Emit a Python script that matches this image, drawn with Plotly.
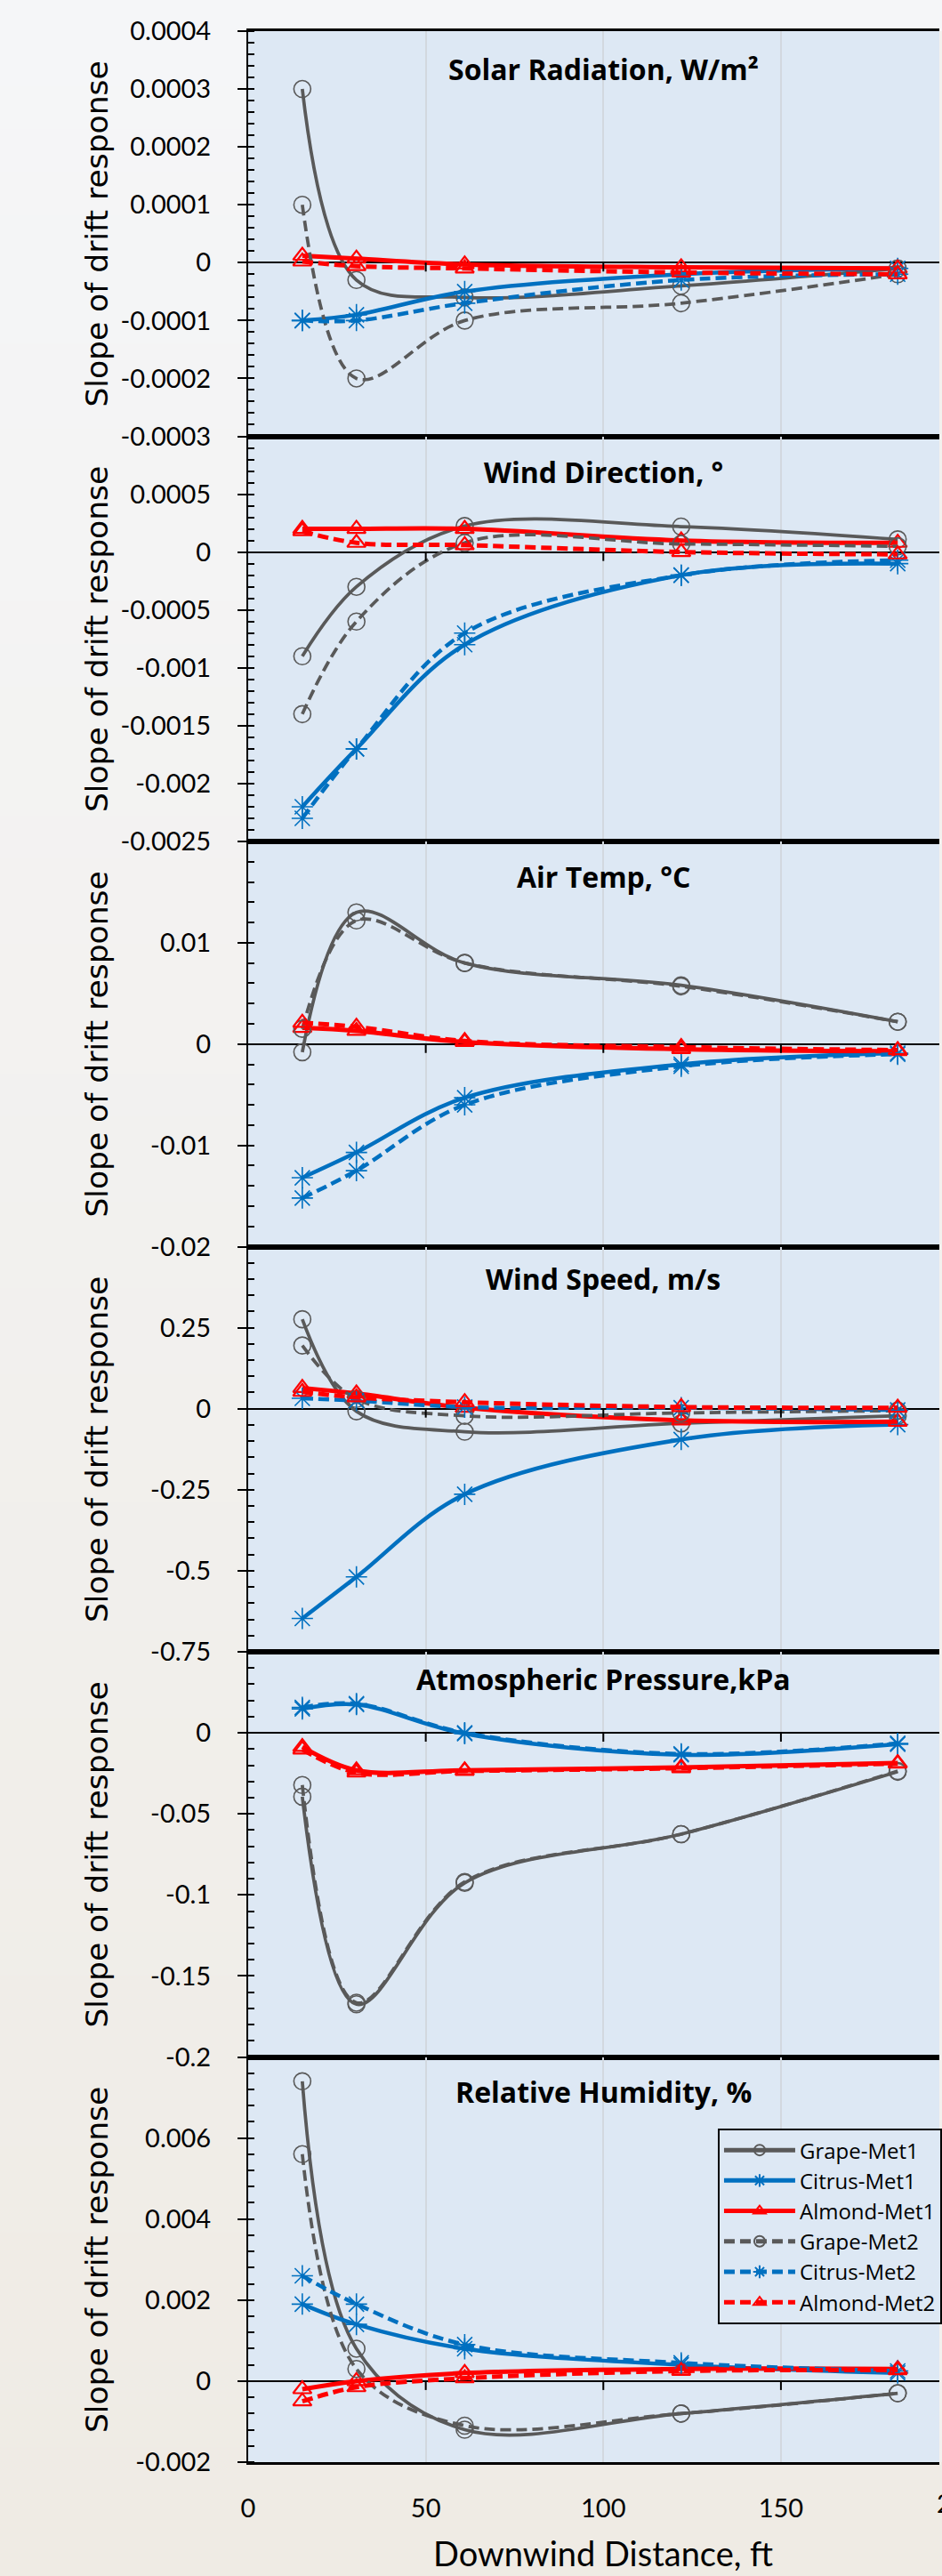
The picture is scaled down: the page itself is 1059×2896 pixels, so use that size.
import plotly.graph_objects as go
from plotly.subplots import make_subplots

# ---------------- data ----------------
distance_ft = [15.24, 30.48, 60.96, 121.92, 182.88]
x_ticks = [0, 50, 100, 150, 200]
series_names = ["Grape-Met1", "Citrus-Met1", "Almond-Met1", "Grape-Met2", "Citrus-Met2", "Almond-Met2"]

panel_titles = ["Solar Radiation, W/m²", "Wind Direction, °", "Air Temp, °C",
                "Wind Speed, m/s", "Atmospheric Pressure,kPa", "Relative Humidity, %"]

solar_grape_met1 = [0.0003, -0.00003, -0.00006, -0.00004, -0.00001]
solar_citrus_met1 = [-0.0001, -0.00009, -0.00005, -0.00002, -0.00001]
solar_almond_met1 = [0.000012, 0.000007, -0.000003, -0.000008, -0.00001]
solar_grape_met2 = [0.0001, -0.0002, -0.0001, -0.00007, -0.00002]
solar_citrus_met2 = [-0.0001, -0.0001, -0.00007, -0.00003, -0.00002]
solar_almond_met2 = [0.000002, -0.000006, -0.00001, -0.000017, -0.00002]

wdir_grape_met1 = [-0.0009, -0.0003, 0.000225, 0.00022, 0.00011]
wdir_citrus_met1 = [-0.0022, -0.0017, -0.0008, -0.0002, -0.0001]
wdir_almond_met1 = [0.0002, 0.0002, 0.0002, 0.0001, 0.00008]
wdir_grape_met2 = [-0.0014, -0.0006, 0.00008, 0.00007, 0.00005]
wdir_citrus_met2 = [-0.0023, -0.0017, -0.0007, -0.0002, -0.00007]
wdir_almond_met2 = [0.00018, 0.00008, 0.00006, 0.0, -0.00002]

temp_grape_met1 = [-0.0008, 0.013, 0.008, 0.0058, 0.0022]
temp_citrus_met1 = [-0.0132, -0.0107, -0.0053, -0.002, -0.0009]
temp_almond_met1 = [0.0016, 0.0013, 0.0002, -0.0005, -0.0007]
temp_grape_met2 = [0.0015, 0.0122, 0.008, 0.0057, 0.0022]
temp_citrus_met2 = [-0.0152, -0.0125, -0.006, -0.0022, -0.001]
temp_almond_met2 = [0.0021, 0.0017, 0.0003, -0.0003, -0.0006]

wspd_grape_met1 = [0.276, -0.008, -0.071, -0.045, -0.022]
wspd_citrus_met1 = [-0.647, -0.519, -0.264, -0.095, -0.049]
wspd_almond_met1 = [0.064, 0.047, 0.003, -0.036, -0.04]
wspd_grape_met2 = [0.195, 0.03, -0.022, -0.013, -0.006]
wspd_citrus_met2 = [0.032, 0.025, 0.005, 0.003, -0.004]
wspd_almond_met2 = [0.052, 0.035, 0.02, 0.005, 0.003]

pres_grape_met1 = [-0.0394, -0.1675, -0.0926, -0.0625, -0.024]
pres_citrus_met1 = [0.0148, 0.0175, -0.0005, -0.0135, -0.007]
pres_almond_met1 = [-0.0087, -0.0231, -0.0231, -0.0213, -0.0186]
pres_grape_met2 = [-0.0322, -0.1665, -0.092, -0.0625, -0.0236]
pres_citrus_met2 = [0.0157, 0.018, 0.0, -0.013, -0.0065]
pres_almond_met2 = [-0.0103, -0.0245, -0.0235, -0.0218, -0.019]

rh_grape_met1 = [0.0074, 0.0008, -0.0012, -0.0008, -0.0003]
rh_citrus_met1 = [0.0019, 0.0014, 0.0008, 0.0004, 0.0002]
rh_almond_met1 = [-0.0002, 0.0, 0.0002, 0.0003, 0.0003]
rh_grape_met2 = [0.0056, 0.0003, -0.0011, -0.0008, -0.0003]
rh_citrus_met2 = [0.0026, 0.0019, 0.0009, 0.00045, 0.00025]
rh_almond_met2 = [-0.0005, -0.00015, 0.00007, 0.00025, 0.00027]

panel_series = [
    [solar_grape_met1, solar_citrus_met1, solar_almond_met1, solar_grape_met2, solar_citrus_met2, solar_almond_met2],
    [wdir_grape_met1, wdir_citrus_met1, wdir_almond_met1, wdir_grape_met2, wdir_citrus_met2, wdir_almond_met2],
    [temp_grape_met1, temp_citrus_met1, temp_almond_met1, temp_grape_met2, temp_citrus_met2, temp_almond_met2],
    [wspd_grape_met1, wspd_citrus_met1, wspd_almond_met1, wspd_grape_met2, wspd_citrus_met2, wspd_almond_met2],
    [pres_grape_met1, pres_citrus_met1, pres_almond_met1, pres_grape_met2, pres_citrus_met2, pres_almond_met2],
    [rh_grape_met1, rh_citrus_met1, rh_almond_met1, rh_grape_met2, rh_citrus_met2, rh_almond_met2],
]

y_ranges = [[-0.0003, 0.0004], [-0.0025, 0.001], [-0.02, 0.02], [-0.75, 0.5], [-0.2, 0.05], [-0.002, 0.008]]
y_tickvals = [
    [-0.0003, -0.0002, -0.0001, 0, 0.0001, 0.0002, 0.0003, 0.0004],
    [-0.0025, -0.002, -0.0015, -0.001, -0.0005, 0, 0.0005],
    [-0.02, -0.01, 0, 0.01],
    [-0.75, -0.5, -0.25, 0, 0.25],
    [-0.2, -0.15, -0.1, -0.05, 0],
    [-0.002, 0, 0.002, 0.004, 0.006],
]
y_ticktext = [
    ["-0.0003", "-0.0002", "-0.0001", "0", "0.0001", "0.0002", "0.0003", "0.0004"],
    ["-0.0025", "-0.002", "-0.0015", "-0.001", "-0.0005", "0", "0.0005"],
    ["-0.02", "-0.01", "0", "0.01"],
    ["-0.75", "-0.5", "-0.25", "0", "0.25"],
    ["-0.2", "-0.15", "-0.1", "-0.05", "0"],
    ["-0.002", "0", "0.002", "0.004", "0.006"],
]
y_minor = [0.00002, 0.0001, 0.002, 0.05, 0.01, 0.0004]

# ---------------- styles ----------------
GRAY, BLUE, RED = "#595959", "#0070c0", "#ff0000"
DASH = "12px,6px"
styles = {
    "Grape-Met1": dict(color=GRAY, dash="solid", symbol="circle-open", width=3.75, msize=19, mlw=1.6),
    "Citrus-Met1": dict(color=BLUE, dash="solid", symbol="asterisk-open", width=4.5, msize=20, mlw=1.6),
    "Almond-Met1": dict(color=RED, dash="solid", symbol="triangle-up-open", width=5, msize=18, mlw=2.2),
    "Grape-Met2": dict(color=GRAY, dash=DASH, symbol="circle-open", width=3.75, msize=19, mlw=1.6),
    "Citrus-Met2": dict(color=BLUE, dash=DASH, symbol="asterisk-open", width=4.5, msize=20, mlw=1.6),
    "Almond-Met2": dict(color=RED, dash=DASH, symbol="triangle-up-open", width=5, msize=18, mlw=2.2),
}
title_offsets = [42, 40, 39, 36, 30, 39]

fig = make_subplots(rows=6, cols=1, shared_xaxes=True, vertical_spacing=0)

for p, series in enumerate(panel_series):
    for name, vals in zip(series_names, series):
        s = styles[name]
        fig.add_trace(go.Scatter(
            x=distance_ft, y=vals, name=name, mode="lines+markers",
            line=dict(color=s["color"], width=s["width"], dash=s["dash"], shape="spline", smoothing=1),
            marker=dict(symbol=s["symbol"], size=s["msize"], color=s["color"],
                        line=dict(color=s["color"], width=s["mlw"])),
            showlegend=(p == 5),
            legend="legend" if p == 5 else "legend2",
        ), row=p + 1, col=1)

X_MAX = 194.6
for p in range(6):
    fig.update_xaxes(range=[0, X_MAX], tickvals=x_ticks, ticks="", showgrid=True,
                     gridcolor="#d2d8df", gridwidth=1.5, zeroline=False,
                     showline=True, linecolor="black", linewidth=2.5, mirror=True,
                     showticklabels=(p == 5), tickfont=dict(family="Lato", size=29, color="black"),
                     ticklabelstandoff=24, row=p + 1, col=1)
    fig.update_yaxes(range=y_ranges[p], tickmode="array", tickvals=y_tickvals[p], ticktext=y_ticktext[p],
                     ticks="outside", ticklen=10, tickwidth=2, tickcolor="black",
                     tickfont=dict(family="Lato", size=29, color="black"), ticklabelstandoff=24,
                     showline=True, linecolor="black", linewidth=2, showgrid=False,
                     zeroline=True, zerolinecolor="black", zerolinewidth=2,
                     minor=dict(tickmode="linear", tick0=0, dtick=y_minor[p], ticks="inside",
                                ticklen=7, tickwidth=1.5, tickcolor="black", showgrid=False),
                     row=p + 1, col=1)

annotations = []
shapes = []
for p in range(6):
    ax = "" if p == 0 else str(p + 1)
    annotations.append(dict(text="<b>" + panel_titles[p] + "</b>", xref="x" + ax, yref="y" + ax + " domain",
                            x=100, y=1, yanchor="middle", xanchor="center", yshift=-title_offsets[p],
                            showarrow=False, font=dict(family="Open Sans", size=32, color="black")))
    annotations.append(dict(text="Slope of drift response", xref="paper", yref="y" + ax + " domain",
                            x=-0.219, y=0.5, textangle=-90, xanchor="center", yanchor="middle",
                            showarrow=False, font=dict(family="DejaVu Sans", size=34.5, color="black")))
    for v in x_ticks[1:-1]:
        shapes.append(dict(type="line", xref="x" + ax, yref="y" + ax, x0=v, x1=v,
                           ysizemode="pixel", yanchor=0, y0=0, y1=-10,
                           line=dict(color="black", width=2)))

annotations.append(dict(text="Downwind Distance, ft", xref="x6", yref="paper", x=100, y=0,
                        yanchor="middle", xanchor="center", yshift=-102, showarrow=False,
                        font=dict(family="Lato", size=38, color="black")))
annotations.append(dict(text=str(x_ticks[-1]), xref="paper", yref="paper", x=(x_ticks[-1] / X_MAX), y=0,
                        yanchor="middle", xanchor="center", yshift=-45, showarrow=False,
                        font=dict(family="Lato", size=29, color="black")))

# background gradient (margins only)
def mix(t):
    top = (245, 246, 248)
    bot = (239, 235, 228)
    return "rgb(%d,%d,%d)" % tuple(round(a + (b - a) * t) for a, b in zip(top, bot))

H, T, B = 2896, 35, 128
plot_h = H - T - B
N = 60
for k in range(N):
    py0 = H * k / N
    py1 = H * (k + 1) / N + 1
    y0 = 1 - (py1 - T) / plot_h
    y1 = 1 - (py0 - T) / plot_h
    col = mix((k + 0.5) / N)
    shapes.append(dict(type="rect", xref="paper", yref="paper", x0=-0.4, x1=0, y0=y0, y1=y1,
                       fillcolor=col, line=dict(width=0), layer="below"))
    if y1 > 1 or y0 < 0:
        shapes.append(dict(type="rect", xref="paper", yref="paper", x0=0, x1=1.05,
                           y0=max(y0, 1) if y1 > 1 else y0, y1=y1 if y1 > 1 else min(y1, 0),
                           fillcolor=col, line=dict(width=0), layer="below"))

fig.update_layout(
    width=1059, height=2896,
    margin=dict(l=279, r=0, t=35, b=128),
    paper_bgcolor="#f2f1ee", plot_bgcolor="#dde8f4",
    annotations=annotations, shapes=shapes,
    legend=dict(x=0.6795, y=0.1372, xanchor="left", yanchor="top", bgcolor="#dde8f4",
                bordercolor="black", borderwidth=2, itemwidth=80, itemsizing="constant",
                font=dict(family="Open Sans", size=24, color="black"), tracegroupgap=0),
    legend2=dict(visible=False),
)

fig.write_html("out.html")
